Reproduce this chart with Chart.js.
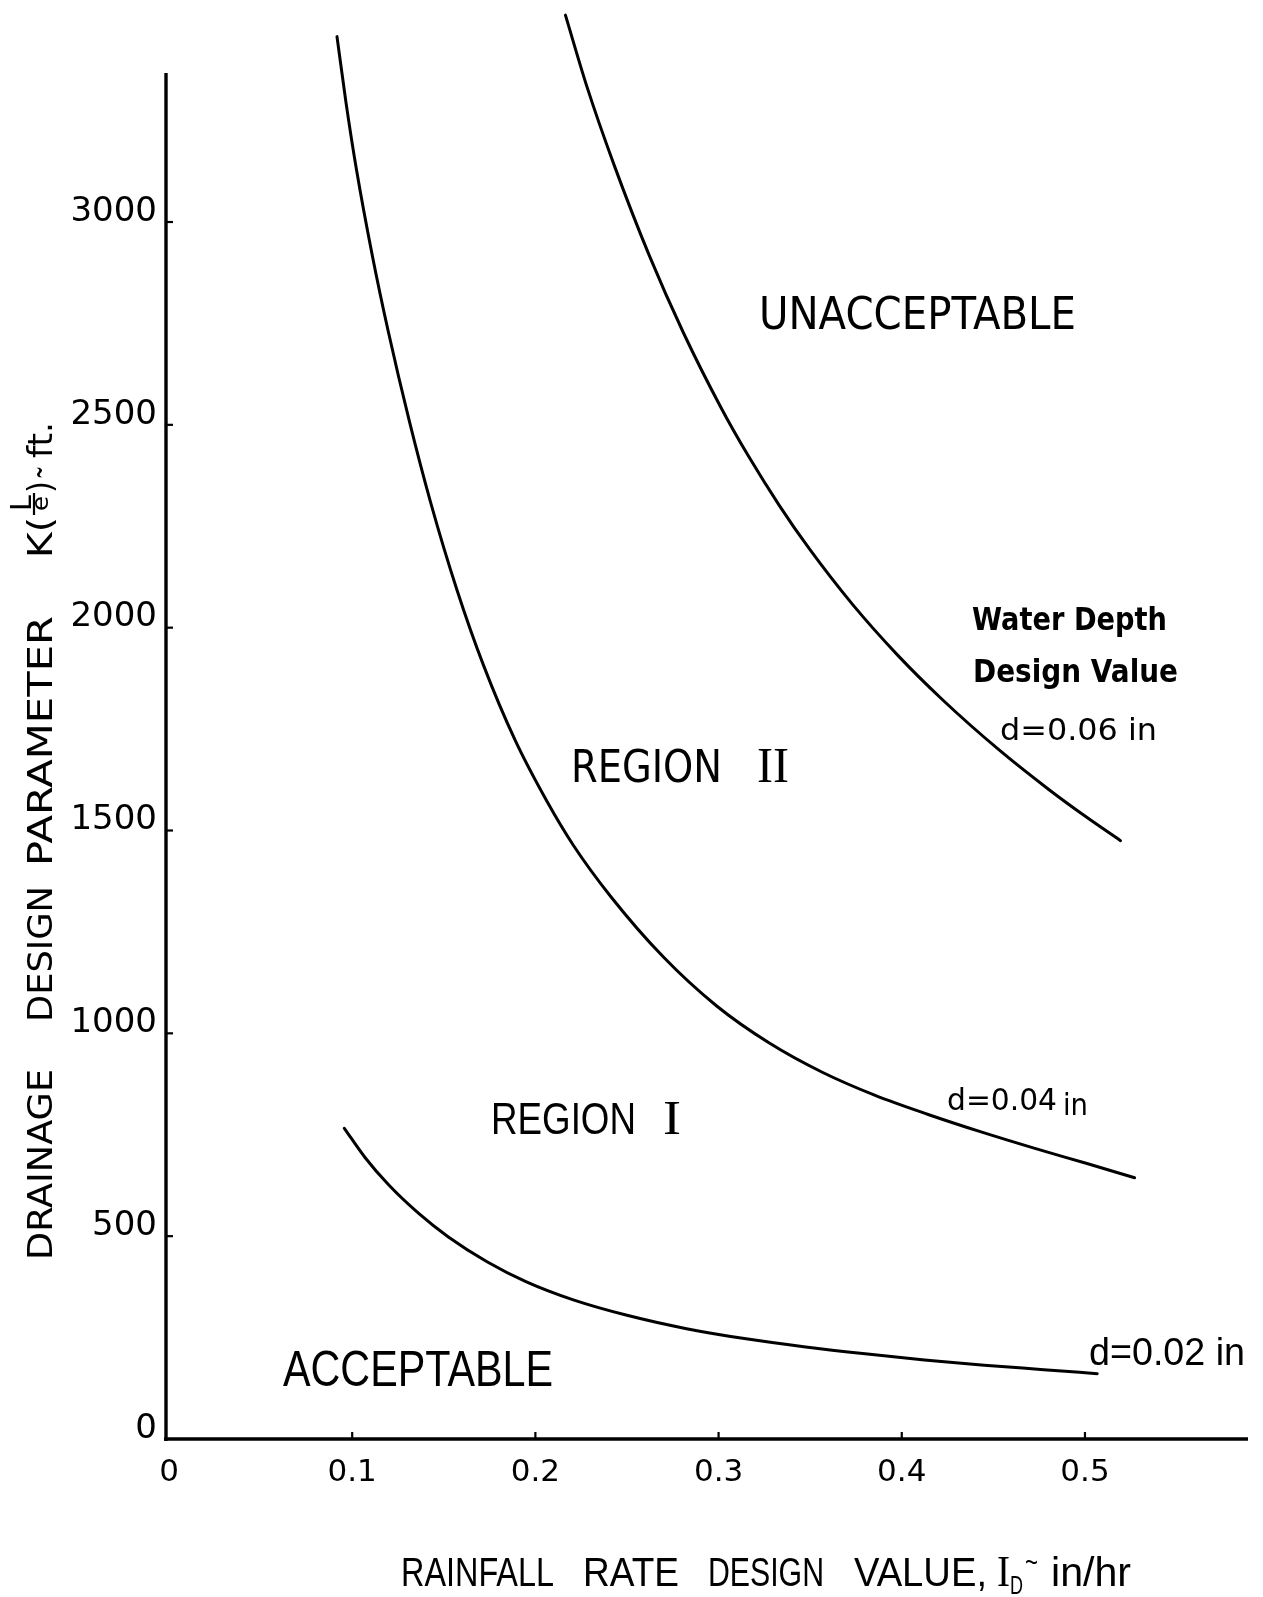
<!DOCTYPE html>
<html>
<head>
<meta charset="utf-8">
<script src="https://cdn.jsdelivr.net/npm/chart.js@4/dist/chart.umd.min.js"></script>
<style>
  html,body{margin:0;padding:0;background:#fff;}
  #wrap{width:1263px;height:1597px;position:relative;}
</style>
</head>
<body>
<div id="wrap"><canvas id="c" width="1263" height="1597"></canvas></div>
<script>
// ---- data ----
const xTickValues = [0, 0.1, 0.2, 0.3, 0.4, 0.5];
const xTickLabels = ['0', '0.1', '0.2', '0.3', '0.4', '0.5'];
const yTickValues = [0, 500, 1000, 1500, 2000, 2500, 3000];
const yTickLabels = ['0', '500', '1000', '1500', '2000', '2500', '3000'];

// d = 0.06 in
const xD06 = [0.2164,0.2284,0.2431,0.2622,0.2808,0.3015,0.3163,0.3332,0.3496,0.3730,0.3976,0.4221,0.4533,0.4806,0.5002,0.5194];
const yD06 = [3510,3330,3139,2917,2727,2541,2423,2301,2194,2058,1933,1823,1698,1600,1535,1475];
// d = 0.04 in
const xD04 = [0.0917,0.0966,0.1023,0.1110,0.1197,0.1312,0.1428,0.1572,0.1717,0.1890,0.2063,0.2208,0.2410,0.2699,0.2988,0.3277,0.3566,0.3855,0.4144,0.4433,0.4722,0.5011,0.5271];
const yD04 = [3457,3295,3130,2917,2730,2509,2309,2093,1907,1722,1572,1463,1338,1188,1068,976,904,847,800,757,717,679,644];
// d = 0.02 in
const xD02 = [0.0957,0.1070,0.1200,0.1363,0.1525,0.1736,0.1948,0.2207,0.2500,0.2825,0.3150,0.3475,0.3800,0.4124,0.4450,0.4775,0.5067];
const yD02 = [766,694,626,556,498,437,388,343,305,272,247,227,210,195,182,171,161];

const X_MAX = 0.589;
const Y_MAX = 3530;
const Y_AXIS_TOP = 3367;

function pts(xs, ys){ return xs.map((x,i)=>({x:x, y:ys[i]})); }

function drawFit(ctx, text, left, base, size, width, family, weight){
  ctx.save();
  ctx.font = (weight||'normal') + ' ' + size + 'px ' + family;
  const w = ctx.measureText(text).width;
  ctx.translate(left, base);
  ctx.scale(width / w, 1);
  ctx.textAlign = 'left';
  ctx.textBaseline = 'alphabetic';
  ctx.fillStyle = '#000';
  ctx.fillText(text, 0, 0);
  ctx.restore();
}

const GEO = '"DejaVu Sans"';
const NARROW = '"Liberation Sans Narrow", "Liberation Sans"';
const SERIF = '"Liberation Serif"';

const annot = {
  id: 'annot',
  afterDraw(chart){
    const ctx = chart.ctx;
    const xs = chart.scales.x, ys = chart.scales.y;
    const x0 = xs.getPixelForValue(0), y0 = ys.getPixelForValue(0);
    const xr = xs.getPixelForValue(X_MAX);
    const yt = ys.getPixelForValue(Y_AXIS_TOP);
    ctx.save();
    ctx.strokeStyle = '#000';
    ctx.lineWidth = 3.4;
    ctx.lineCap = 'butt';
    // y axis
    ctx.beginPath(); ctx.moveTo(x0 - 3, yt); ctx.lineTo(x0 - 3, y0 + 2); ctx.stroke();
    // x axis
    ctx.beginPath(); ctx.moveTo(x0 - 5, y0); ctx.lineTo(xr, y0); ctx.stroke();
    // tick stubs
    ctx.lineWidth = 2.2;
    xTickValues.forEach(v => { if (v === 0) return; const p = xs.getPixelForValue(v);
      ctx.beginPath(); ctx.moveTo(p, y0); ctx.lineTo(p, y0 - 7); ctx.stroke(); });
    yTickValues.forEach(v => { if (v === 0) return; const p = ys.getPixelForValue(v);
      ctx.beginPath(); ctx.moveTo(x0 - 3, p); ctx.lineTo(x0 + 4, p); ctx.stroke(); });
    ctx.restore();

    // region / curve labels
    drawFit(ctx, 'UNACCEPTABLE', 759, 329, 45, 317, GEO);
    drawFit(ctx, 'Water Depth', 972, 630, 32, 195, GEO, 'bold');
    drawFit(ctx, 'Design Value', 973, 682, 32, 205, GEO, 'bold');
    drawFit(ctx, 'd=0.06 in', 1000, 740, 31, 157, GEO);
    drawFit(ctx, 'REGION', 571, 782, 45, 151, GEO);
    drawFit(ctx, 'II', 757, 782, 50, 32, SERIF);
    drawFit(ctx, 'd=0.04', 947, 1110, 31, 110, GEO);
    drawFit(ctx, 'in', 1063, 1115, 31, 25, GEO);
    drawFit(ctx, 'REGION', 491, 1134, 44, 145, NARROW);
    drawFit(ctx, 'I', 663, 1134, 48, 18, SERIF);
    drawFit(ctx, 'ACCEPTABLE', 283, 1386, 50, 270, NARROW);
    drawFit(ctx, 'd=0.02 in', 1089, 1365, 38, 156, NARROW);

    // x axis title
    drawFit(ctx, 'RAINFALL', 401, 1586, 40, 153, NARROW);
    drawFit(ctx, 'RATE', 583, 1586, 40, 96, NARROW);
    drawFit(ctx, 'DESIGN', 708, 1586, 40, 116, NARROW);
    drawFit(ctx, 'VALUE,', 854, 1586, 40, 133, NARROW);
    drawFit(ctx, 'I', 997, 1586, 44, 13, SERIF);
    drawFit(ctx, 'D', 1010, 1594, 26, 13, NARROW);
    drawFit(ctx, '~', 1025, 1572, 30, 13, NARROW);
    drawFit(ctx, 'in/hr', 1051, 1586, 40, 80, NARROW);

    // y axis title (rotated)
    ctx.save();
    ctx.translate(52, 1260);
    ctx.rotate(-Math.PI / 2);
    drawFit(ctx, 'DRAINAGE', 0, 0, 34, 191, GEO);
    drawFit(ctx, 'DESIGN', 238, 0, 34, 136, GEO);
    drawFit(ctx, 'PARAMETER', 394, 0, 34, 250, GEO);
    drawFit(ctx, 'K(', 702, 0, 34, 41, GEO);
    drawFit(ctx, 'L', 749, -21, 29, 16, GEO);
    ctx.strokeStyle = '#000'; ctx.lineWidth = 2.2;
    ctx.beginPath(); ctx.moveTo(745, -18); ctx.lineTo(767, -18); ctx.stroke();
    drawFit(ctx, 'e', 749, -4, 23, 15, GEO);
    drawFit(ctx, ')', 767, 0, 34, 12, GEO);
    drawFit(ctx, '~', 781, -2, 34, 13, GEO);
    drawFit(ctx, 'ft.', 802, 0, 34, 36, GEO);
    ctx.restore();
  }
};

const lineStyle = {
  showLine: true, borderColor: '#000', backgroundColor: '#000', borderWidth: 3,
  pointRadius: 0, cubicInterpolationMode: 'monotone', fill: false, borderCapStyle: 'round'
};

new Chart(document.getElementById('c').getContext('2d'), {
  type: 'scatter',
  data: {
    datasets: [
      Object.assign({label: 'd=0.06 in', data: pts(xD06, yD06)}, lineStyle),
      Object.assign({label: 'd=0.04 in', data: pts(xD04, yD04)}, lineStyle),
      Object.assign({label: 'd=0.02 in', data: pts(xD02, yD02)}, lineStyle)
    ]
  },
  options: {
    responsive: false,
    animation: false,
    events: [],
    layout: {padding: {left: 0, right: 15, top: 7, bottom: 0}},
    plugins: {legend: {display: false}, tooltip: {enabled: false}},
    scales: {
      x: {
        type: 'linear', min: 0, max: X_MAX,
        grid: {display: false, drawTicks: false},
        border: {display: false},
        afterBuildTicks: s => { s.ticks = xTickValues.map(v => ({value: v})); },
        afterFit: s => { s.height = 158; s.paddingLeft = 0; s.paddingRight = 0; },
        ticks: {
          callback: (v, i) => xTickLabels[i],
          font: {family: 'DejaVu Sans', size: 31}, color: '#000',
          padding: 15, maxRotation: 0, autoSkip: false
        }
      },
      y: {
        type: 'linear', min: 0, max: Y_MAX,
        grid: {display: false, drawTicks: false},
        border: {display: false},
        afterBuildTicks: s => { s.ticks = yTickValues.map(v => ({value: v})); },
        afterFit: s => { s.width = 169; s.paddingTop = 0; s.paddingBottom = 0; },
        ticks: {
          callback: (v, i) => yTickLabels[i],
          font: {family: 'DejaVu Sans', size: 34}, color: '#000',
          padding: 12, labelOffset: -10, autoSkip: false
        }
      }
    }
  },
  plugins: [annot]
});
</script>
</body>
</html>
